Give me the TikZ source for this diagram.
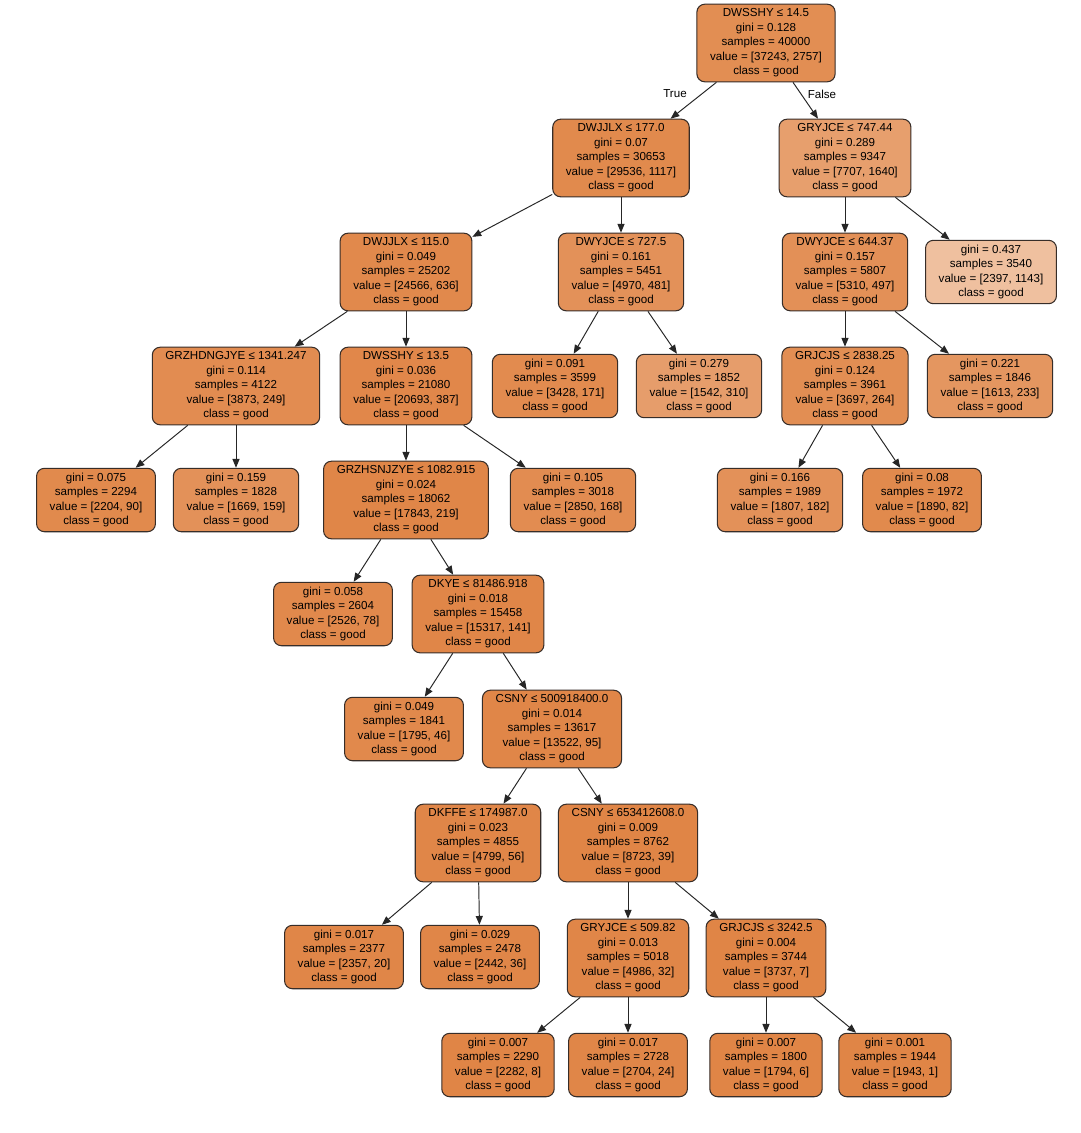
\documentclass[tikz,border=0pt]{standalone}
\usepackage{fontspec}
\setmainfont{Liberation Sans}
\usepackage{xcolor}
\usetikzlibrary{arrows.meta}

\definecolor{good}{RGB}{224,133,70}
\definecolor{rim}{RGB}{55,45,40}

\begin{document}
\begin{tikzpicture}[
  x=0.02cm, y=-0.02cm,
  split/.style={draw=rim,line width=0.6pt,rounded corners=4.5pt,align=center,
    inner xsep=7.5pt,inner ysep=2.6pt,font=\fontsize{6.6}{8.25}\selectfont},
  leaf/.style={split},
  edge/.style={draw=black!85,line width=0.55pt,-{Triangle[length=5pt,width=4pt]}},
  tf/.style={font=\fontsize{6.6}{8}\selectfont,inner sep=1pt}
]
  \useasboundingbox[fill=white] (0,0) rectangle (1080,1133);

  \node[split,fill=good!93] (n0) at (766,43) {DWSSHY ≤ 14.5\\gini = 0.128\\samples = 40000\\value = [37243, 2757]\\class = good};

  \node[split,fill=good!96] (n1) at (621,158) {DWJJLX ≤ 177.0\\gini = 0.07\\samples = 30653\\value = [29536, 1117]\\class = good};
  \node[split,fill=good!79] (n2) at (845,158) {GRYJCE ≤ 747.44\\gini = 0.289\\samples = 9347\\value = [7707, 1640]\\class = good};

  \node[split,fill=good!97] (n3) at (406,272) {DWJJLX ≤ 115.0\\gini = 0.049\\samples = 25202\\value = [24566, 636]\\class = good};
  \node[split,fill=good!90] (n4) at (621,272) {DWYJCE ≤ 727.5\\gini = 0.161\\samples = 5451\\value = [4970, 481]\\class = good};
  \node[split,fill=good!91] (n5) at (845,272) {DWYJCE ≤ 644.37\\gini = 0.157\\samples = 5807\\value = [5310, 497]\\class = good};
  \node[leaf,fill=good!52] (n6) at (991,272) {gini = 0.437\\samples = 3540\\value = [2397, 1143]\\class = good};

  \node[split,fill=good!94] (n7) at (236,386) {GRZHDNGJYE ≤ 1341.247\\gini = 0.114\\samples = 4122\\value = [3873, 249]\\class = good};
  \node[split,fill=good!98] (n8) at (406,386) {DWSSHY ≤ 13.5\\gini = 0.036\\samples = 21080\\value = [20693, 387]\\class = good};
  \node[leaf,fill=good!95] (n9) at (555,386) {gini = 0.091\\samples = 3599\\value = [3428, 171]\\class = good};
  \node[leaf,fill=good!80] (n10) at (699,386) {gini = 0.279\\samples = 1852\\value = [1542, 310]\\class = good};
  \node[split,fill=good!93] (n11) at (845,386) {GRJCJS ≤ 2838.25\\gini = 0.124\\samples = 3961\\value = [3697, 264]\\class = good};
  \node[leaf,fill=good!86] (n12) at (990,386) {gini = 0.221\\samples = 1846\\value = [1613, 233]\\class = good};

  \node[leaf,fill=good!96] (n13) at (96,500) {gini = 0.075\\samples = 2294\\value = [2204, 90]\\class = good};
  \node[leaf,fill=good!90] (n14) at (236,500) {gini = 0.159\\samples = 1828\\value = [1669, 159]\\class = good};
  \node[split,fill=good!99] (n15) at (406,500) {GRZHSNJZYE ≤ 1082.915\\gini = 0.024\\samples = 18062\\value = [17843, 219]\\class = good};
  \node[leaf,fill=good!94] (n16) at (573,500) {gini = 0.105\\samples = 3018\\value = [2850, 168]\\class = good};
  \node[leaf,fill=good!90] (n17) at (780,500) {gini = 0.166\\samples = 1989\\value = [1807, 182]\\class = good};
  \node[leaf,fill=good!96] (n18) at (922,500) {gini = 0.08\\samples = 1972\\value = [1890, 82]\\class = good};

  \node[leaf,fill=good!97] (n19) at (333,614) {gini = 0.058\\samples = 2604\\value = [2526, 78]\\class = good};
  \node[split,fill=good!99] (n20) at (478,614) {DKYE ≤ 81486.918\\gini = 0.018\\samples = 15458\\value = [15317, 141]\\class = good};

  \node[leaf,fill=good!97] (n21) at (404,729) {gini = 0.049\\samples = 1841\\value = [1795, 46]\\class = good};
  \node[split,fill=good!99] (n22) at (552,729) {CSNY ≤ 500918400.0\\gini = 0.014\\samples = 13617\\value = [13522, 95]\\class = good};

  \node[split,fill=good!99] (n23) at (478,843) {DKFFE ≤ 174987.0\\gini = 0.023\\samples = 4855\\value = [4799, 56]\\class = good};
  \node[split,fill=good] (n24) at (628,843) {CSNY ≤ 653412608.0\\gini = 0.009\\samples = 8762\\value = [8723, 39]\\class = good};

  \node[leaf,fill=good!99] (n25) at (344,957) {gini = 0.017\\samples = 2377\\value = [2357, 20]\\class = good};
  \node[leaf,fill=good!99] (n26) at (480,957) {gini = 0.029\\samples = 2478\\value = [2442, 36]\\class = good};
  \node[split,fill=good!99] (n27) at (628,958) {GRYJCE ≤ 509.82\\gini = 0.013\\samples = 5018\\value = [4986, 32]\\class = good};
  \node[split,fill=good] (n28) at (766,958) {GRJCJS ≤ 3242.5\\gini = 0.004\\samples = 3744\\value = [3737, 7]\\class = good};

  \node[leaf,fill=good] (n29) at (498,1065) {gini = 0.007\\samples = 2290\\value = [2282, 8]\\class = good};
  \node[leaf,fill=good!99] (n30) at (628,1065) {gini = 0.017\\samples = 2728\\value = [2704, 24]\\class = good};
  \node[leaf,fill=good] (n31) at (766,1065) {gini = 0.007\\samples = 1800\\value = [1794, 6]\\class = good};
  \node[leaf,fill=good] (n32) at (895,1065) {gini = 0.001\\samples = 1944\\value = [1943, 1]\\class = good};

  \node[tf] (ltrue) at (675,94) {True};
  \node[tf] (lfalse) at (822,94) {False};

  \draw[edge] (n0) -- (n1);
  \draw[edge] (n0) -- (n2);
  \draw[edge] (n1) -- (n3);
  \draw[edge] (n1) -- (n4);
  \draw[edge] (n2) -- (n5);
  \draw[edge] (n2) -- (n6);
  \draw[edge] (n3) -- (n7);
  \draw[edge] (n3) -- (n8);
  \draw[edge] (n4) -- (n9);
  \draw[edge] (n4) -- (n10);
  \draw[edge] (n5) -- (n11);
  \draw[edge] (n5) -- (n12);
  \draw[edge] (n7) -- (n13);
  \draw[edge] (n7) -- (n14);
  \draw[edge] (n8) -- (n15);
  \draw[edge] (n8) -- (n16);
  \draw[edge] (n11) -- (n17);
  \draw[edge] (n11) -- (n18);
  \draw[edge] (n15) -- (n19);
  \draw[edge] (n15) -- (n20);
  \draw[edge] (n20) -- (n21);
  \draw[edge] (n20) -- (n22);
  \draw[edge] (n22) -- (n23);
  \draw[edge] (n22) -- (n24);
  \draw[edge] (n23) -- (n25);
  \draw[edge] (n23) -- (n26);
  \draw[edge] (n24) -- (n27);
  \draw[edge] (n24) -- (n28);
  \draw[edge] (n27) -- (n29);
  \draw[edge] (n27) -- (n30);
  \draw[edge] (n28) -- (n31);
  \draw[edge] (n28) -- (n32);
\end{tikzpicture}
\end{document}
